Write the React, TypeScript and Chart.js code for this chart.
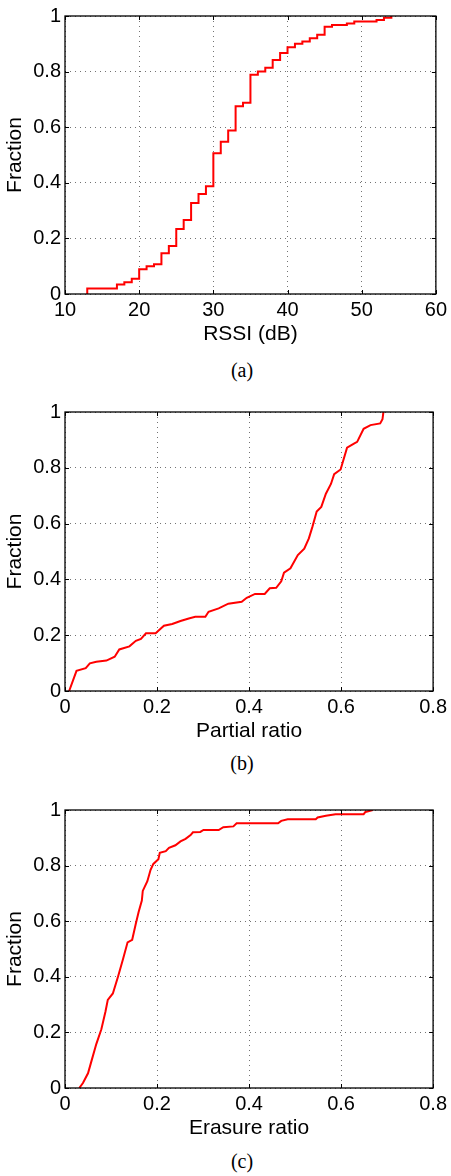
import React, { useEffect, useRef } from 'react';
import { Chart, registerables } from 'chart.js';

Chart.register(...registerables);

// ---- Data ----
const rssiX = [13, 13, 17, 18, 19, 20, 21, 22, 23, 24, 25, 26, 27, 28, 29, 30, 31, 32, 33, 34, 35, 36, 37, 38, 39, 40, 41, 42, 43, 44, 45, 46, 48, 49, 52, 53, 54];
const rssiY = [0, 0.02, 0.034, 0.042, 0.055, 0.089, 0.1, 0.107, 0.147, 0.173, 0.234, 0.266, 0.327, 0.36, 0.388, 0.506, 0.548, 0.588, 0.675, 0.688, 0.789, 0.8, 0.814, 0.842, 0.867, 0.888, 0.9, 0.908, 0.92, 0.933, 0.961, 0.968, 0.973, 0.98, 0.986, 0.994, 1.0];

const partialX = [0.009, 0.025, 0.045, 0.054, 0.068, 0.09, 0.108, 0.118, 0.14, 0.154, 0.165, 0.176, 0.197, 0.215, 0.233, 0.251, 0.269, 0.283, 0.305, 0.312, 0.334, 0.355, 0.384, 0.395, 0.413, 0.434, 0.445, 0.459, 0.47, 0.476, 0.49, 0.506, 0.52, 0.53, 0.538, 0.547, 0.557, 0.567, 0.578, 0.585, 0.599, 0.613, 0.628, 0.635, 0.649, 0.664, 0.685, 0.69, 0.692];
const partialY = [0, 0.072, 0.082, 0.099, 0.105, 0.109, 0.123, 0.149, 0.16, 0.18, 0.187, 0.207, 0.207, 0.234, 0.24, 0.251, 0.26, 0.266, 0.266, 0.284, 0.296, 0.313, 0.32, 0.334, 0.348, 0.348, 0.368, 0.37, 0.393, 0.424, 0.44, 0.487, 0.51, 0.547, 0.59, 0.643, 0.66, 0.707, 0.742, 0.777, 0.794, 0.872, 0.887, 0.893, 0.94, 0.953, 0.959, 0.974, 1.0];

const erasureX = [0.031, 0.039, 0.05, 0.057, 0.068, 0.079, 0.088, 0.093, 0.104, 0.115, 0.126, 0.136, 0.146, 0.154, 0.16, 0.167, 0.169, 0.179, 0.186, 0.192, 0.203, 0.206, 0.219, 0.226, 0.24, 0.251, 0.262, 0.273, 0.278, 0.294, 0.301, 0.334, 0.344, 0.366, 0.373, 0.463, 0.47, 0.484, 0.545, 0.549, 0.567, 0.588, 0.649, 0.653, 0.669];
const erasureY = [0, 0.018, 0.053, 0.094, 0.158, 0.211, 0.275, 0.317, 0.34, 0.399, 0.463, 0.524, 0.533, 0.592, 0.633, 0.674, 0.709, 0.744, 0.785, 0.806, 0.823, 0.846, 0.852, 0.864, 0.873, 0.887, 0.896, 0.91, 0.92, 0.921, 0.928, 0.928, 0.938, 0.941, 0.952, 0.952, 0.961, 0.967, 0.967, 0.973, 0.979, 0.985, 0.985, 0.993, 1.0];

const fracTicks = [0, 0.2, 0.4, 0.6, 0.8, 1];
const fracTickLabels = ['0', '0.2', '0.4', '0.6', '0.8', '1'];
const rssiTicks = [10, 20, 30, 40, 50, 60];
const rssiTickLabels = ['10', '20', '30', '40', '50', '60'];
const ratioTicks = [0, 0.2, 0.4, 0.6, 0.8];
const ratioTickLabels = ['0', '0.2', '0.4', '0.6', '0.8'];

const yTitle = 'Fraction';
const xTitles = ['RSSI (dB)', 'Partial ratio', 'Erasure ratio'];
const captions = ['(a)', '(b)', '(c)'];

// ---- Layout ----
const W = 451;
const PLOT_LEFT = 65;
const PLOT_RIGHT = 437;
const PAD_TOP = 10;
const XAXIS_H = 56;
const SANS = '"Liberation Sans", Arial, Helvetica, sans-serif';

const framePlugin = {
  id: 'matlabFrame',
  afterDraw(chart: any) {
    const { ctx, chartArea: a, scales } = chart;
    ctx.save();
    ctx.strokeStyle = '#000';
    ctx.lineWidth = 1.3;
    ctx.strokeRect(a.left, a.top, a.right - a.left, a.bottom - a.top);
    ctx.lineWidth = 1;
    const L = 4;
    const line = (x1: number, y1: number, x2: number, y2: number) => {
      ctx.beginPath();
      ctx.moveTo(x1, y1);
      ctx.lineTo(x2, y2);
      ctx.stroke();
    };
    scales.x.ticks.forEach((t: any) => {
      const px = Math.round(scales.x.getPixelForValue(t.value)) + 0.5;
      line(px, a.bottom, px, a.bottom - L);
      line(px, a.top, px, a.top + L);
    });
    scales.y.ticks.forEach((t: any) => {
      const py = Math.round(scales.y.getPixelForValue(t.value)) + 0.5;
      line(a.left, py, a.left + L, py);
      line(a.right, py, a.right - L, py);
    });
    ctx.restore();
  },
};

type PanelProps = {
  top: number;
  plotH: number;
  xs: number[];
  ys: number[];
  stepped: boolean;
  xMin: number;
  xMax: number;
  xTicks: number[];
  xTickLabels: string[];
  xTitle: string;
};

function Panel(p: PanelProps) {
  const ref = useRef<HTMLCanvasElement>(null);
  const H = PAD_TOP + p.plotH + XAXIS_H;
  useEffect(() => {
    if (!ref.current) return;
    const data = p.xs.map((x, i) => ({ x, y: p.ys[i] }));
    const chart = new Chart(ref.current, {
      type: 'line',
      data: {
        datasets: [
          {
            data,
            borderColor: '#ff0000',
            borderWidth: 2,
            pointRadius: 0,
            fill: false,
            tension: 0,
            stepped: p.stepped ? 'before' : false,
          } as any,
        ],
      },
      options: {
        animation: false,
        responsive: false,
        maintainAspectRatio: false,
        layout: { padding: { top: PAD_TOP, right: W - PLOT_RIGHT, left: 0, bottom: 0 } },
        plugins: { legend: { display: false }, tooltip: { enabled: false } },
        scales: {
          x: {
            type: 'linear',
            min: p.xMin,
            max: p.xMax,
            afterBuildTicks: (s: any) => {
              s.ticks = p.xTicks.map((v) => ({ value: v }));
            },
            afterFit: (s: any) => {
              s.height = XAXIS_H;
            },
            ticks: {
              autoSkip: false,
              maxRotation: 0,
              padding: 4,
              color: '#000',
              font: { family: SANS, size: 20 },
              callback: (_v: any, i: number) => p.xTickLabels[i],
            },
            grid: { color: 'rgba(0,0,0,0.55)', lineWidth: 1, drawTicks: false },
            border: { display: false, dash: [1, 4] },
            title: {
              display: true,
              text: p.xTitle,
              color: '#000',
              font: { family: SANS, size: 21 },
              padding: { top: 0, bottom: 3 },
            },
          },
          y: {
            type: 'linear',
            min: 0,
            max: 1,
            afterBuildTicks: (s: any) => {
              s.ticks = fracTicks.map((v) => ({ value: v }));
            },
            afterFit: (s: any) => {
              s.width = PLOT_LEFT;
            },
            ticks: {
              autoSkip: false,
              padding: 4,
              color: '#000',
              font: { family: SANS, size: 20 },
              callback: (_v: any, i: number) => fracTickLabels[i],
            },
            grid: { color: 'rgba(0,0,0,0.55)', lineWidth: 1, drawTicks: false },
            border: { display: false, dash: [1, 4] },
            title: {
              display: true,
              text: yTitle,
              color: '#000',
              font: { family: SANS, size: 21 },
              padding: { top: 3, bottom: 0 },
            },
          },
        },
      },
      plugins: [framePlugin],
    });
    return () => chart.destroy();
  }, []);
  return (
    <canvas
      ref={ref}
      width={W}
      height={H}
      style={{ position: 'absolute', left: 0, top: p.top - PAD_TOP, width: W, height: H }}
    />
  );
}

const captionTops = [360, 753, 1151];

export default function App() {
  return (
    <div style={{ position: 'absolute', left: 0, top: 0, width: W, height: 1176, background: '#fff', overflow: 'hidden' }}>
      <Panel top={10} plotH={284} xs={rssiX} ys={rssiY} stepped={true} xMin={10} xMax={60} xTicks={rssiTicks} xTickLabels={rssiTickLabels} xTitle={xTitles[0]} />
      <Panel top={406} plotH={285} xs={partialX} ys={partialY} stepped={false} xMin={0} xMax={0.8} xTicks={ratioTicks} xTickLabels={ratioTickLabels} xTitle={xTitles[1]} />
      <Panel top={804} plotH={284} xs={erasureX} ys={erasureY} stepped={false} xMin={0} xMax={0.8} xTicks={ratioTicks} xTickLabels={ratioTickLabels} xTitle={xTitles[2]} />
      {captions.map((c, i) => (
        <div
          key={c}
          style={{
            position: 'absolute',
            left: 192,
            width: 100,
            top: captionTops[i],
            textAlign: 'center',
            fontFamily: '"Liberation Serif", "Times New Roman", serif',
            fontSize: 20,
            lineHeight: '20px',
            color: '#000',
          }}
        >
          {c}
        </div>
      ))}
    </div>
  );
}
